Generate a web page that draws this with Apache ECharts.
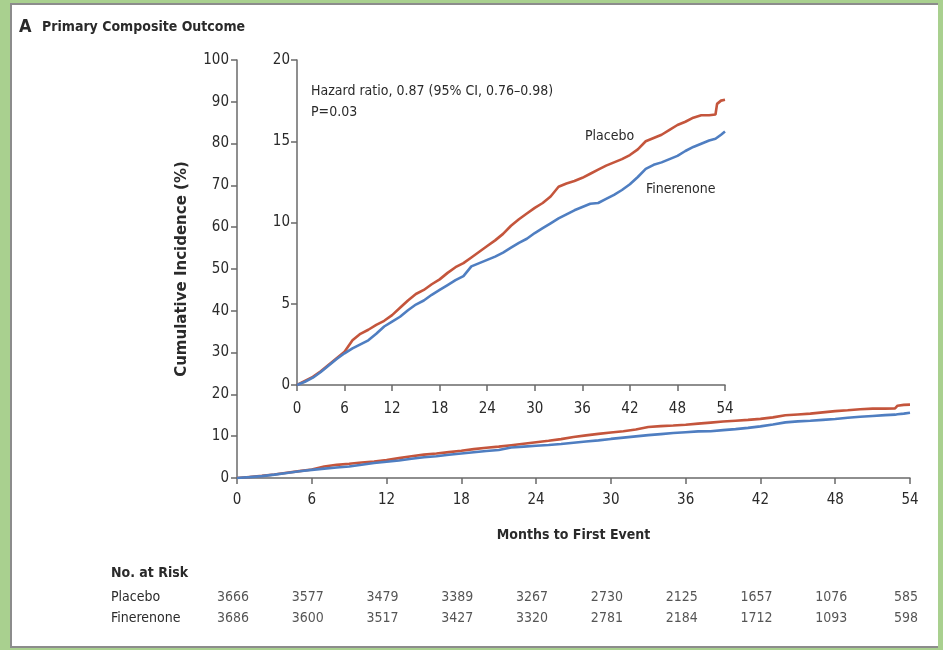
<!DOCTYPE html>
<html><head><meta charset="utf-8">
<script src="https://cdn.jsdelivr.net/npm/echarts@6/dist/echarts.min.js"></script>
<style>
html,body{margin:0;padding:0;background:#a9d08f;width:943px;height:650px;overflow:hidden}
#panel{position:absolute;left:10px;top:3px;width:926px;height:641px;background:#fff;border-left:2px solid #8c8c8c;border-top:2px solid #8c8c8c;border-bottom:2px solid #8c8c8c;}
#chart{position:absolute;left:0;top:0;width:943px;height:650px}
</style></head><body><div id="panel"></div><div id="chart"></div>
<script>
// ---- data ----
const months = [0,1,2,3,4,5,6,7,8,9,10,11,12,13,14,15,16,17,18,19,20,21,22,23,24,25,26,27,28,29,30,31,32,33,34,35,36,37,38,39,40,41,42,43,44,45,46,47,48,49,50,51,52,52.8,53,53.5,54];
const placebo = [0,0.25,0.5,0.85,1.25,1.65,2.05,2.75,3.15,3.4,3.7,3.95,4.3,4.75,5.2,5.6,5.85,6.2,6.5,6.9,7.25,7.5,7.85,8.2,8.55,8.9,9.3,9.8,10.2,10.55,10.9,11.2,11.6,12.2,12.4,12.55,12.75,13.0,13.25,13.5,13.7,13.9,14.15,14.5,15.0,15.2,15.4,15.7,16.0,16.2,16.45,16.6,16.6,16.65,17.3,17.5,17.55];
const finerenone = [0,0.2,0.45,0.8,1.2,1.6,1.95,2.25,2.5,2.75,3.15,3.6,3.9,4.2,4.6,4.95,5.2,5.55,5.85,6.15,6.45,6.7,7.3,7.5,7.7,7.9,8.15,8.45,8.75,9.0,9.35,9.65,9.95,10.25,10.5,10.75,10.95,11.15,11.2,11.45,11.7,12.0,12.35,12.8,13.3,13.55,13.7,13.9,14.1,14.4,14.65,14.85,15.05,15.15,15.25,15.4,15.6];
const atRiskMonths = [0,6,12,18,24,30,36,42,48,54];
const atRiskPlacebo = [3666,3577,3479,3389,3267,2730,2125,1657,1076,585];
const atRiskFinerenone = [3686,3600,3517,3427,3320,2781,2184,1712,1093,598];
const mainYTicks = {min:0,max:100,interval:10};
const insetYTicks = {min:0,max:20,interval:5};
const xTicks = {min:0,max:54,interval:6};

const NARROW = '"Liberation Sans Narrow","DejaVu Sans Condensed","Arial Narrow",sans-serif';
const RED = '#c4553c', BLUE = '#4f7ec1', AX = '#6a6a6a', TXT = '#2a2a2a';

const pl = months.map((m,i)=>[m,placebo[i]]);
const fi = months.map((m,i)=>[m,finerenone[i]]);

const axisCommon = {
  axisLine:{show:true,lineStyle:{color:AX,width:1.5}},
  axisTick:{show:true,length:6,lineStyle:{color:AX,width:1.5}},
  splitLine:{show:false},
  axisLabel:{fontFamily:NARROW,fontSize:15,color:TXT}
};
function ax(extra){return Object.assign({},JSON.parse(JSON.stringify(axisCommon)),extra);}

const chart = echarts.init(document.getElementById('chart'),null,{renderer:'canvas'});
chart.setOption({
  backgroundColor:'transparent',
  animation:false,
  grid:[
    {left:237,top:60,width:673,height:418},
    {left:297,top:60,width:428,height:325},
    {left:237,top:587,width:673,height:42}
  ],
  xAxis:[
    ax({type:'value',gridIndex:0,min:xTicks.min,max:xTicks.max,interval:xTicks.interval,
        axisLabel:{fontFamily:NARROW,fontSize:15,color:TXT,margin:15},
        name:'Months to First Event',nameLocation:'middle',nameGap:50,
        nameTextStyle:{fontFamily:NARROW,fontSize:14,fontWeight:'bold',color:TXT}}),
    ax({type:'value',gridIndex:1,min:xTicks.min,max:xTicks.max,interval:xTicks.interval,
        axisLabel:{fontFamily:NARROW,fontSize:15,color:TXT,margin:17}}),
    {type:'value',gridIndex:2,min:xTicks.min,max:xTicks.max,show:false}
  ],
  yAxis:[
    ax({type:'value',gridIndex:0,min:mainYTicks.min,max:mainYTicks.max,interval:mainYTicks.interval,
        axisLabel:{fontFamily:NARROW,fontSize:15,color:TXT,margin:8},
        name:'Cumulative Incidence (%)',nameLocation:'middle',nameGap:47,
        nameTextStyle:{fontFamily:'"DejaVu Sans","Noto Sans",sans-serif',fontSize:15,fontWeight:'bold',color:TXT}}),
    ax({type:'value',gridIndex:1,min:insetYTicks.min,max:insetYTicks.max,interval:insetYTicks.interval,
        axisLabel:{fontFamily:NARROW,fontSize:15,color:TXT,margin:7}}),
    {type:'category',gridIndex:2,data:['Finerenone','Placebo'],
      axisLine:{show:false},axisTick:{show:false},splitLine:{show:false},
      axisLabel:{show:true,align:'left',margin:126,fontFamily:NARROW,fontSize:14,color:TXT}}
  ],
  graphic:[
    {type:'text',left:19,top:18,style:{text:'A',font:'bold 18px '+NARROW,fill:TXT}},
    {type:'text',left:42,top:20,style:{text:'Primary Composite Outcome',font:'bold 14px '+NARROW,fill:TXT}},
    {type:'text',left:311,top:84,style:{text:'Hazard ratio, 0.87 (95% CI, 0.76\u20130.98)',font:'14px '+NARROW,fill:TXT}},
    {type:'text',left:311,top:105,style:{text:'P=0.03',font:'14px '+NARROW,fill:TXT}},
    {type:'text',left:585,top:129,style:{text:'Placebo',font:'14px '+NARROW,fill:TXT}},
    {type:'text',left:646,top:182,style:{text:'Finerenone',font:'14px '+NARROW,fill:TXT}},
    {type:'text',left:111,top:566,style:{text:'No. at Risk',font:'bold 14px '+NARROW,fill:TXT}}
  ],
  series:[
    {type:'line',xAxisIndex:0,yAxisIndex:0,data:pl,showSymbol:false,lineStyle:{color:RED,width:2.6},z:3},
    {type:'line',xAxisIndex:0,yAxisIndex:0,data:fi,showSymbol:false,lineStyle:{color:BLUE,width:2.6},z:4},
    {type:'line',xAxisIndex:1,yAxisIndex:1,data:pl,showSymbol:false,lineStyle:{color:RED,width:2.6},z:3},
    {type:'line',xAxisIndex:1,yAxisIndex:1,data:fi,showSymbol:false,lineStyle:{color:BLUE,width:2.6},z:4},
    {type:'scatter',xAxisIndex:2,yAxisIndex:2,symbolSize:0,
      data:atRiskMonths.map((m,i)=>[m,'Placebo',atRiskPlacebo[i]]),
      label:{show:true,position:'inside',offset:[-4,0],formatter:p=>p.value[2],fontFamily:NARROW,fontSize:14,color:TXT}},
    {type:'scatter',xAxisIndex:2,yAxisIndex:2,symbolSize:0,
      data:atRiskMonths.map((m,i)=>[m,'Finerenone',atRiskFinerenone[i]]),
      label:{show:true,position:'inside',offset:[-4,0],formatter:p=>p.value[2],fontFamily:NARROW,fontSize:14,color:TXT}}
  ]
});
</script></body></html>
